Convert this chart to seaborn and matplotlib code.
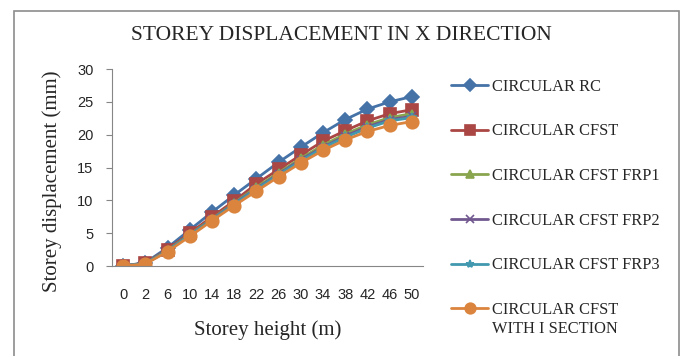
import matplotlib
matplotlib.use("Agg")
import matplotlib.pyplot as plt
import seaborn as sns
import pandas as pd
from matplotlib.patches import Rectangle

heights = ["0", "2", "6", "10", "14", "18", "22", "26", "30", "34", "38", "42", "46", "50"]
rc = [0, 0.5, 2.8, 5.5, 8.2, 10.8, 13.3, 15.8, 18.1, 20.3, 22.3, 23.9, 25.0, 25.8]
cfst = [0, 0.45, 2.5, 5.0, 7.5, 9.9, 12.5, 14.7, 16.9, 19.0, 20.6, 22.1, 23.2, 23.8]
frp1 = [0, 0.4, 2.4, 4.8, 7.2, 9.6, 12.0, 14.2, 16.4, 18.4, 20.1, 21.5, 22.6, 23.2]
frp2 = [0, 0.4, 2.3, 4.7, 7.1, 9.5, 11.8, 14.0, 16.2, 18.1, 19.8, 21.2, 22.3, 22.8]
frp3 = [0, 0.4, 2.3, 4.7, 7.0, 9.4, 11.7, 13.9, 16.0, 18.0, 19.6, 21.0, 22.1, 22.6]
isec = [0, 0.3, 2.2, 4.5, 6.9, 9.2, 11.4, 13.6, 15.7, 17.6, 19.2, 20.5, 21.4, 22.0]

series = {
    "CIRCULAR RC": rc,
    "CIRCULAR CFST": cfst,
    "CIRCULAR CFST FRP1": frp1,
    "CIRCULAR CFST FRP2": frp2,
    "CIRCULAR CFST FRP3": frp3,
    "CIRCULAR CFST\nWITH I SECTION": isec,
}
colors = ["#4572A7", "#AA4643", "#89A54E", "#71588F", "#4198AF", "#DB843D"]
markers = ["D", "s", "^", "x", "*", "o"]
msizes = [7, 8, 6, 6, 7, 9]

rows = []
for name, vals in series.items():
    for i, v in enumerate(vals):
        rows.append({"pos": i, "disp": v, "series": name})
df = pd.DataFrame(rows)

sns.set_theme(style="white")
serif = ["Liberation Serif", "DejaVu Serif"]
sans = ["Liberation Sans", "DejaVu Sans"]

fig = plt.figure(figsize=(6.83, 3.56), dpi=100)
ax = fig.add_axes([112 / 683, 1 - 266 / 356, (423 - 112) / 683, (266 - 69) / 356])

for (name, _), c, m, ms in zip(series.items(), colors, markers, msizes):
    sub = df[df["series"] == name]
    sns.lineplot(data=sub, x="pos", y="disp", ax=ax, color=c, marker=m,
                 markersize=ms, linewidth=2.0, markeredgecolor=c,
                 markeredgewidth=1.2, label=name, legend=False)

ax.set_xlim(-0.5, len(heights) - 0.5)
ax.set_ylim(0, 30)
ax.set_xticks(range(len(heights)))
ax.set_xticklabels(heights, fontfamily=sans, fontsize=10.5)
ax.set_yticks(range(0, 31, 5))
ax.set_yticklabels([str(v) for v in range(0, 31, 5)], fontfamily=sans, fontsize=10.5)
ax.tick_params(axis="y", length=4.3, width=0.8, color="#868686", direction="out", pad=9, left=True)
ax.tick_params(axis="x", length=0, pad=16)
for s in ["top", "right"]:
    ax.spines[s].set_visible(False)
for s in ["left", "bottom"]:
    ax.spines[s].set_color("#868686")
    ax.spines[s].set_linewidth(0.8)

ax.set_xlabel("Storey height (m)", fontfamily=serif, fontsize=15, labelpad=13)
ax.set_ylabel("Storey displacement (mm)", fontfamily=serif, fontsize=15)
ax.yaxis.set_label_coords((52 - 112) / 311, (266 - 181) / 197)
ax.yaxis.label.set_va("center")
fig.text(341 / 683, 1 - 36 / 356, "STOREY DISPLACEMENT IN X DIRECTION", ha="center", va="center",
         fontfamily=serif, fontsize=15.5)

handles, labels = ax.get_legend_handles_labels()
leg = fig.legend(handles, labels, loc="upper left", bbox_to_anchor=(436 / 683, 1 - 64 / 356),
                 frameon=False, prop={"family": serif, "size": 11.8}, handlelength=2.3,
                 handletextpad=0.2, labelspacing=1.75, markerscale=0.85)

# align the handle of the two-line entry with its first line
try:
    for col in leg._legend_handle_box.get_children():
        entries = col.get_children()
        if entries:
            entries[-1].align = "top"
except Exception:
    pass

fig.patches.append(Rectangle((14 / 683, -0.05), (679 - 14) / 683, 1 - 11 / 356 + 0.05,
                             transform=fig.transFigure, fill=False, edgecolor="#8c8c8c", linewidth=1.2))

fig.savefig("out.png", dpi=100)
